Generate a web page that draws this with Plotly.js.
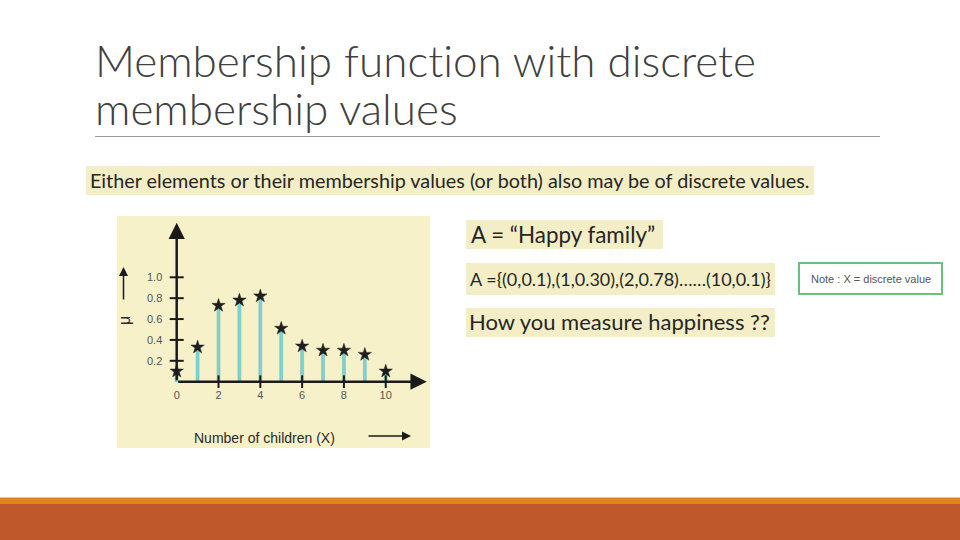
<!DOCTYPE html>
<html>
<head>
<meta charset="utf-8">
<script src="https://cdn.plot.ly/plotly-3.0.1.min.js"></script>
<style>html,body{margin:0;padding:0;background:#fff;}#chart{width:960px;height:540px;}text{font-variant-ligatures:none;font-feature-settings:"liga" 0;}</style>
</head>
<body>
<div id="chart"></div>
<script>
// ---- data ----
const children = [0, 1, 2, 3, 4, 5, 6, 7, 8, 9, 10];
const membership = [0.10, 0.33, 0.73, 0.78, 0.82, 0.51, 0.34, 0.30, 0.30, 0.26, 0.10];
const xTickVals = [0, 2, 4, 6, 8, 10];
const xTickText = ["0", "2", "4", "6", "8", "10"];
const yTickVals = [0.2, 0.4, 0.6, 0.8, 1.0];
const yTickText = ["0.2", "0.4", "0.6", "0.8", "1.0"];
const xAxisMax = 11.96;
const yAxisMax = 1.523;

const titleLine1 = "Membership function with discrete";
const titleLine2 = "membership values";
const introText = "Either elements or their membership values (or both) also may be of discrete values.";
const setName = "A = \u201cHappy family\u201d";
const setDef = "A ={(0,0.1),(1,0.30),(2,0.78)\u2026\u2026(10,0.1)}";
const question = "How you measure happiness ??";
const noteText = "Note : X = discrete value";
const xLabel = "Number of children (X)";
const yLabel = "\u03bc";

const W = 960, H = 540;
const px = v => v / W;
const py = v => 1 - v / H;

const traces = [
  {
    type: 'bar', x: children, y: membership, width: 0.14,
    marker: {color: '#7dd2d3', line: {color: '#5fbcbf', width: 0.5}},
    hoverinfo: 'x+y'
  },
  {
    type: 'scatter', mode: 'markers', x: xTickVals.slice(1), y: xTickVals.slice(1).map(() => 0),
    marker: {symbol: 'line-ns-open', size: 9, color: '#1a1a1a', line: {width: 2, color: '#1a1a1a'}},
    cliponaxis: false, hoverinfo: 'skip'
  },
  {
    type: 'scatter', mode: 'markers', x: yTickVals.map(() => 0), y: yTickVals,
    marker: {symbol: 'line-ew-open', size: 10, color: '#1a1a1a', line: {width: 2, color: '#1a1a1a'}},
    cliponaxis: false, hoverinfo: 'skip'
  },
  {
    type: 'scatter', mode: 'markers', x: children, y: membership,
    marker: {symbol: 'star', size: 10, color: '#1e1e1e', line: {width: 0.5, color: '#1e1e1e'}},
    cliponaxis: false
  }
];

const hl = '#f3eec5';
const shapes = [
  {type: 'rect', xref: 'paper', yref: 'paper', x0: px(117), x1: px(430), y0: py(448), y1: py(216), fillcolor: '#f6f1c9', line: {width: 0}, layer: 'below'},
  {type: 'line', xref: 'paper', yref: 'paper', x0: px(95), x1: px(880), y0: py(136.5), y1: py(136.5), line: {color: '#9a9a9a', width: 1}},
  {type: 'rect', xref: 'paper', yref: 'paper', x0: px(86), x1: px(814), y0: py(195), y1: py(166), fillcolor: hl, line: {width: 0}, layer: 'below'},
  {type: 'rect', xref: 'paper', yref: 'paper', x0: px(466), x1: px(663), y0: py(249), y1: py(220), fillcolor: hl, line: {width: 0}, layer: 'below'},
  {type: 'rect', xref: 'paper', yref: 'paper', x0: px(466), x1: px(775), y0: py(295), y1: py(263), fillcolor: hl, line: {width: 0}, layer: 'below'},
  {type: 'rect', xref: 'paper', yref: 'paper', x0: px(466), x1: px(775), y0: py(337), y1: py(308), fillcolor: hl, line: {width: 0}, layer: 'below'},
  {type: 'rect', xref: 'paper', yref: 'paper', x0: px(799), x1: px(942), y0: py(294), y1: py(263), fillcolor: '#ffffff', line: {color: '#6cc07c', width: 2}},
  {type: 'rect', xref: 'paper', yref: 'paper', x0: 0, x1: 1, y0: py(504), y1: py(497.5), fillcolor: '#e3831c', line: {width: 0}},
  {type: 'rect', xref: 'paper', yref: 'paper', x0: 0, x1: 1, y0: 0, y1: py(504), fillcolor: '#bf592b', line: {width: 0}}
];

const cal = 'Lato, "Open Sans", sans-serif';
const annotations = [
  {xref: 'paper', yref: 'paper', x: px(93), y: py(60), xanchor: 'left', yanchor: 'middle', align: 'left', showarrow: false,
   text: titleLine1, font: {family: cal, size: 44, color: '#404040', weight: 300}},
  {xref: 'paper', yref: 'paper', x: px(93), y: py(108), xanchor: 'left', yanchor: 'middle', align: 'left', showarrow: false,
   text: titleLine2, font: {family: cal, size: 44, color: '#404040', weight: 300}},
  {xref: 'paper', yref: 'paper', x: px(88), y: py(179.5), xanchor: 'left', yanchor: 'middle', showarrow: false,
   text: introText, font: {family: cal, size: 19.8, color: '#262626'}},
  {xref: 'paper', yref: 'paper', x: px(469), y: py(234.5), xanchor: 'left', yanchor: 'middle', showarrow: false,
   text: setName, font: {family: cal, size: 22.4, color: '#262626'}},
  {xref: 'paper', yref: 'paper', x: px(468), y: py(278.5), xanchor: 'left', yanchor: 'middle', showarrow: false,
   text: setDef, font: {family: cal, size: 18, color: '#262626'}},
  {xref: 'paper', yref: 'paper', x: px(467), y: py(321.5), xanchor: 'left', yanchor: 'middle', showarrow: false,
   text: question, font: {family: cal, size: 22, color: '#262626'}},
  {xref: 'paper', yref: 'paper', x: px(870.5), y: py(278.5), xanchor: 'center', yanchor: 'middle', showarrow: false,
   text: noteText, font: {family: 'Liberation Sans, Arial, sans-serif', size: 11, color: '#555555'}},
  {xref: 'x', yref: 'y', axref: 'x', ayref: 'y', x: xAxisMax, y: 0, ax: 0, ay: 0, text: '', showarrow: true,
   arrowhead: 2, arrowsize: 1.3, arrowwidth: 2.5, arrowcolor: '#1a1a1a'},
  {xref: 'x', yref: 'y', axref: 'x', ayref: 'y', x: 0, y: yAxisMax, ax: 0, ay: 0, text: '', showarrow: true,
   arrowhead: 2, arrowsize: 1.3, arrowwidth: 2.5, arrowcolor: '#1a1a1a'},
  {xref: 'paper', yref: 'paper', x: px(192), y: py(438), xanchor: 'left', yanchor: 'middle', showarrow: false,
   text: xLabel, font: {family: 'Liberation Sans, Arial, sans-serif', size: 14, color: '#2a2a2a'}},
  {xref: 'paper', yref: 'paper', axref: 'pixel', ayref: 'pixel', x: px(411), y: py(436), ax: -44, ay: 0, text: '', showarrow: true,
   arrowhead: 2, arrowsize: 1.2, arrowwidth: 1.5, arrowcolor: '#1a1a1a'},
  {xref: 'paper', yref: 'paper', x: px(124), y: py(321), xanchor: 'center', yanchor: 'middle', showarrow: false, textangle: -90,
   text: yLabel, font: {family: 'Liberation Sans, Arial, sans-serif', size: 16, color: '#2a2a2a'}},
  {xref: 'paper', yref: 'paper', axref: 'pixel', ayref: 'pixel', x: px(123.5), y: py(267), ax: 0, ay: 34, text: '', showarrow: true,
   arrowhead: 2, arrowsize: 1.2, arrowwidth: 1.5, arrowcolor: '#1a1a1a'}
];

const layout = {
  width: W, height: H,
  margin: {l: 0, r: 0, t: 0, b: 0},
  paper_bgcolor: '#ffffff', plot_bgcolor: 'rgba(0,0,0,0)',
  showlegend: false,
  xaxis: {
    domain: [px(176.7 - 10.45), px(426.7)], range: [-0.5, xAxisMax],
    showgrid: false, zeroline: false, showline: false, ticks: '',
    tickvals: xTickVals, ticktext: xTickText, ticklabelstandoff: 0,
    tickfont: {family: 'Liberation Sans, Arial, sans-serif', size: 11, color: '#555555'}
  },
  yaxis: {
    domain: [py(381.7 + 5.2), py(222.7)], range: [-0.05, yAxisMax],
    showgrid: false, zeroline: false, showline: false, ticks: '',
    tickvals: yTickVals, ticktext: yTickText, ticklabelstandoff: 3,
    tickfont: {family: 'Liberation Sans, Arial, sans-serif', size: 11, color: '#555555'}
  },
  shapes: shapes,
  annotations: annotations,
  bargap: 0
};

Plotly.newPlot('chart', traces, layout, {displayModeBar: false, staticPlot: true});
</script>
</body>
</html>
